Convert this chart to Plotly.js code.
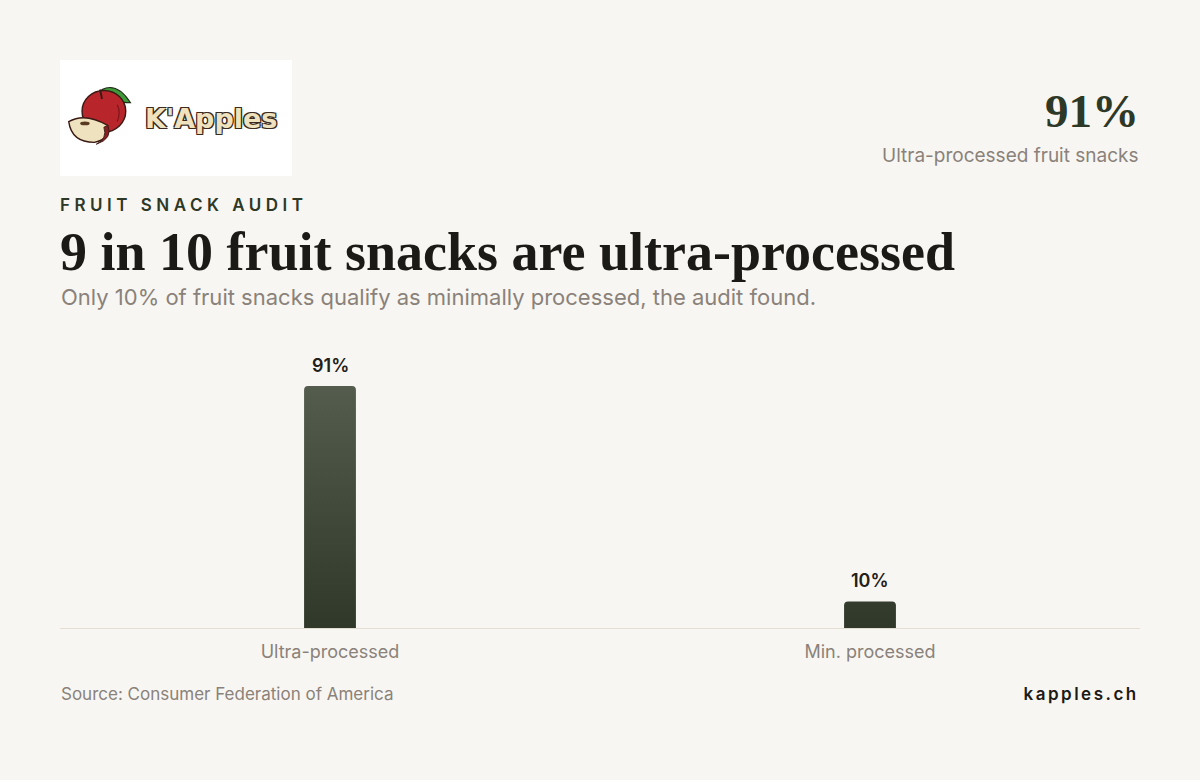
<!DOCTYPE html>
<html>
<head>
<meta charset="utf-8">
<script src="https://cdn.plot.ly/plotly-3.0.1.min.js"></script>
<style>
  html, body { margin: 0; padding: 0; background: #f8f6f2; }
  #chart { width: 1200px; height: 780px; }
</style>
</head>
<body>
<div id="chart"></div>
<script>
// ---- data ----
const categories = ["Ultra-processed", "Min. processed"];
const shares = [91, 10];
const valueLabels = ["91%", "10%"];
const kicker = "FRUIT SNACK AUDIT";
const titleText = "9 in 10 fruit snacks are ultra-processed";
const subtitleText = "Only 10% of fruit snacks qualify as minimally processed, the audit found.";
const headlineValue = "91%";
const headlineLabel = "Ultra-processed fruit snacks";
const sourceText = "Source: Consumer Federation of America";
const brandText = "kapples.ch";
const logoText = "K'Apples";

// ---- geometry helpers (page px -> paper) ----
const M = {l: 60, r: 60, t: 340, b: 152};
const W = 1200, H = 780;
const PW = W - M.l - M.r, PH = H - M.t - M.b;
const px = x => (x - M.l) / PW;
const py = y => (H - M.b - y) / PH;

const serif = "'Liberation Serif', 'DejaVu Serif', serif";
const sans = "Inter, 'Noto Sans', sans-serif";
const muted = "#8a827a";

const appleSvg = `<svg xmlns='http://www.w3.org/2000/svg' width='80' height='70' viewBox='0 0 80 70'>
<path d='M40,8 Q56,0 70,22 Q52,22 40,8 Z' fill='#3f9a3a' stroke='#1f2a14' stroke-width='1.2'/>
<ellipse cx='42' cy='31' rx='23' ry='22' fill='#b8262c' stroke='#3a1a14' stroke-width='1.5'/>
<path d='M38,8 L40,18' stroke='#3a1a14' stroke-width='2'/>
<path d='M56,24 Q60,32 56,42' stroke='#7a1418' stroke-width='1.2' fill='none'/>
<path d='M5,42 Q22,32 46,46 Q50,60 32,64 Q8,64 5,42 Z' fill='#efe2bf' stroke='#3a1a14' stroke-width='1.5'/>
<path d='M46,46 Q52,60 34,66 Q46,60 42,48 Z' fill='#8b1e22' stroke='#3a1a14' stroke-width='1'/>
<ellipse cx='22' cy='44' rx='5' ry='2' fill='#5a3a20'/>
</svg>`;
const appleUri = "data:image/svg+xml;charset=utf-8," + encodeURIComponent(appleSvg);

const trace = {
  type: "bar",
  x: categories,
  y: shares,
  marker: {color: ["#434b3d", "#2e3826"], cornerradius: 4, line: {width: 0}},
  hoverinfo: "skip",
  width: 0.096
};

const ann = (text, x, y, opts) => Object.assign({
  text, x: px(x), y: py(y), xref: "paper", yref: "paper",
  showarrow: false, xanchor: "left", yanchor: "middle"
}, opts);

// value labels placed through the data axes
const valueAnns = categories.map((c, i) => ({
  text: valueLabels[i], x: c, y: shares[i], xref: "x", yref: "y",
  showarrow: false, xanchor: "center", yanchor: "bottom", yshift: 8,
  font: {family: sans, size: 18, color: "#222019", weight: 600}
}));

const layout = {
  width: W, height: H,
  paper_bgcolor: "#f8f6f2", plot_bgcolor: "#f8f6f2",
  margin: M,
  showlegend: false,
  xaxis: {
    showgrid: false, zeroline: false, showline: true, linecolor: "#e4ddd2", linewidth: 1,
    ticks: "", tickfont: {family: sans, size: 18, color: muted}, ticklabelstandoff: 7,
    fixedrange: true
  },
  yaxis: {range: [0, 108.3], visible: false, fixedrange: true},
  shapes: [
    {type: "rect", xref: "paper", yref: "paper", x0: px(60), x1: px(292), y0: py(176), y1: py(60),
     fillcolor: "#ffffff", line: {width: 0}, layer: "below"}
  ],
  images: [
    {source: appleUri, xref: "paper", yref: "paper", x: px(64), y: py(82), sizex: 76 / PW, sizey: 66 / PH,
     xanchor: "left", yanchor: "top", sizing: "stretch", layer: "above"}
  ],
  annotations: [
    ann(logoText, 211, 118, {xanchor: "center", font: {family: "'DejaVu Sans', sans-serif", size: 27, color: "#efe2bf", weight: 700,
      shadow: "-1.2px -1.2px 0 #3a2a20, 1.2px -1.2px 0 #3a2a20, -1.2px 1.2px 0 #3a2a20, 1.2px 1.2px 0 #3a2a20"}}),
    ann(kicker, 58, 205, {font: {family: sans, size: 17, color: "#2e3826", weight: 600}}),
    ann(titleText, 58, 252, {font: {family: serif, size: 54, color: "#1c1a16", weight: 700}}),
    ann(subtitleText, 59, 297, {font: {family: sans, size: 22, color: muted}}),
    ann(headlineValue, 1141, 111, {xanchor: "right", font: {family: serif, size: 47, color: "#2e3826", weight: 700}}),
    ann(headlineLabel, 1141, 155, {xanchor: "right", font: {family: sans, size: 19, color: muted}}),
    ann(sourceText, 59, 694, {font: {family: sans, size: 17, color: muted}}),
    ann(brandText, 1138, 694, {xanchor: "right", font: {family: sans, size: 17, color: "#1c1a16", weight: 600}})
  ].concat(valueAnns)
};

function spaceText(t, spacing, align) {
  const before = t.getBBox();
  t.style.letterSpacing = spacing + "px";
  const after = t.getBBox();
  const x0 = parseFloat(t.getAttribute("x") || "0");
  let dx;
  if (align === "left") dx = before.x - after.x;
  else dx = (before.x + before.width) - (after.x + after.width - spacing);
  t.setAttribute("x", String(x0 + dx));
}

Plotly.newPlot("chart", [trace], layout, {staticPlot: true, displayModeBar: false}).then(gd => {
  gd.querySelectorAll(".annotation-text").forEach(t => {
    const s = t.textContent;
    if (s === kicker) spaceText(t, 4.5, "left");
    if (s === brandText) spaceText(t, 2.5, "right");
  });
  // vertical gradient on bars
  const ns = "http://www.w3.org/2000/svg";
  const svg = gd.querySelector("svg.main-svg");
  let defs = svg.querySelector("defs");
  if (!defs) { defs = document.createElementNS(ns, "defs"); svg.insertBefore(defs, svg.firstChild); }
  const paths = gd.querySelectorAll(".barlayer .point path");
  if (paths.length) {
    const bb = paths[0].getBBox();
    const g = document.createElementNS(ns, "linearGradient");
    g.setAttribute("id", "barGrad");
    g.setAttribute("gradientUnits", "userSpaceOnUse");
    g.setAttribute("x1", "0"); g.setAttribute("x2", "0");
    g.setAttribute("y1", String(bb.y)); g.setAttribute("y2", String(bb.y + bb.height));
    [["0", "#545c4e"], ["1", "#30382a"]].forEach(([o, c]) => {
      const st = document.createElementNS(ns, "stop");
      st.setAttribute("offset", o); st.setAttribute("stop-color", c);
      g.appendChild(st);
    });
    defs.appendChild(g);
    paths.forEach(p => { p.style.fill = "url(#barGrad)"; });
  }
});
</script>
</body>
</html>
